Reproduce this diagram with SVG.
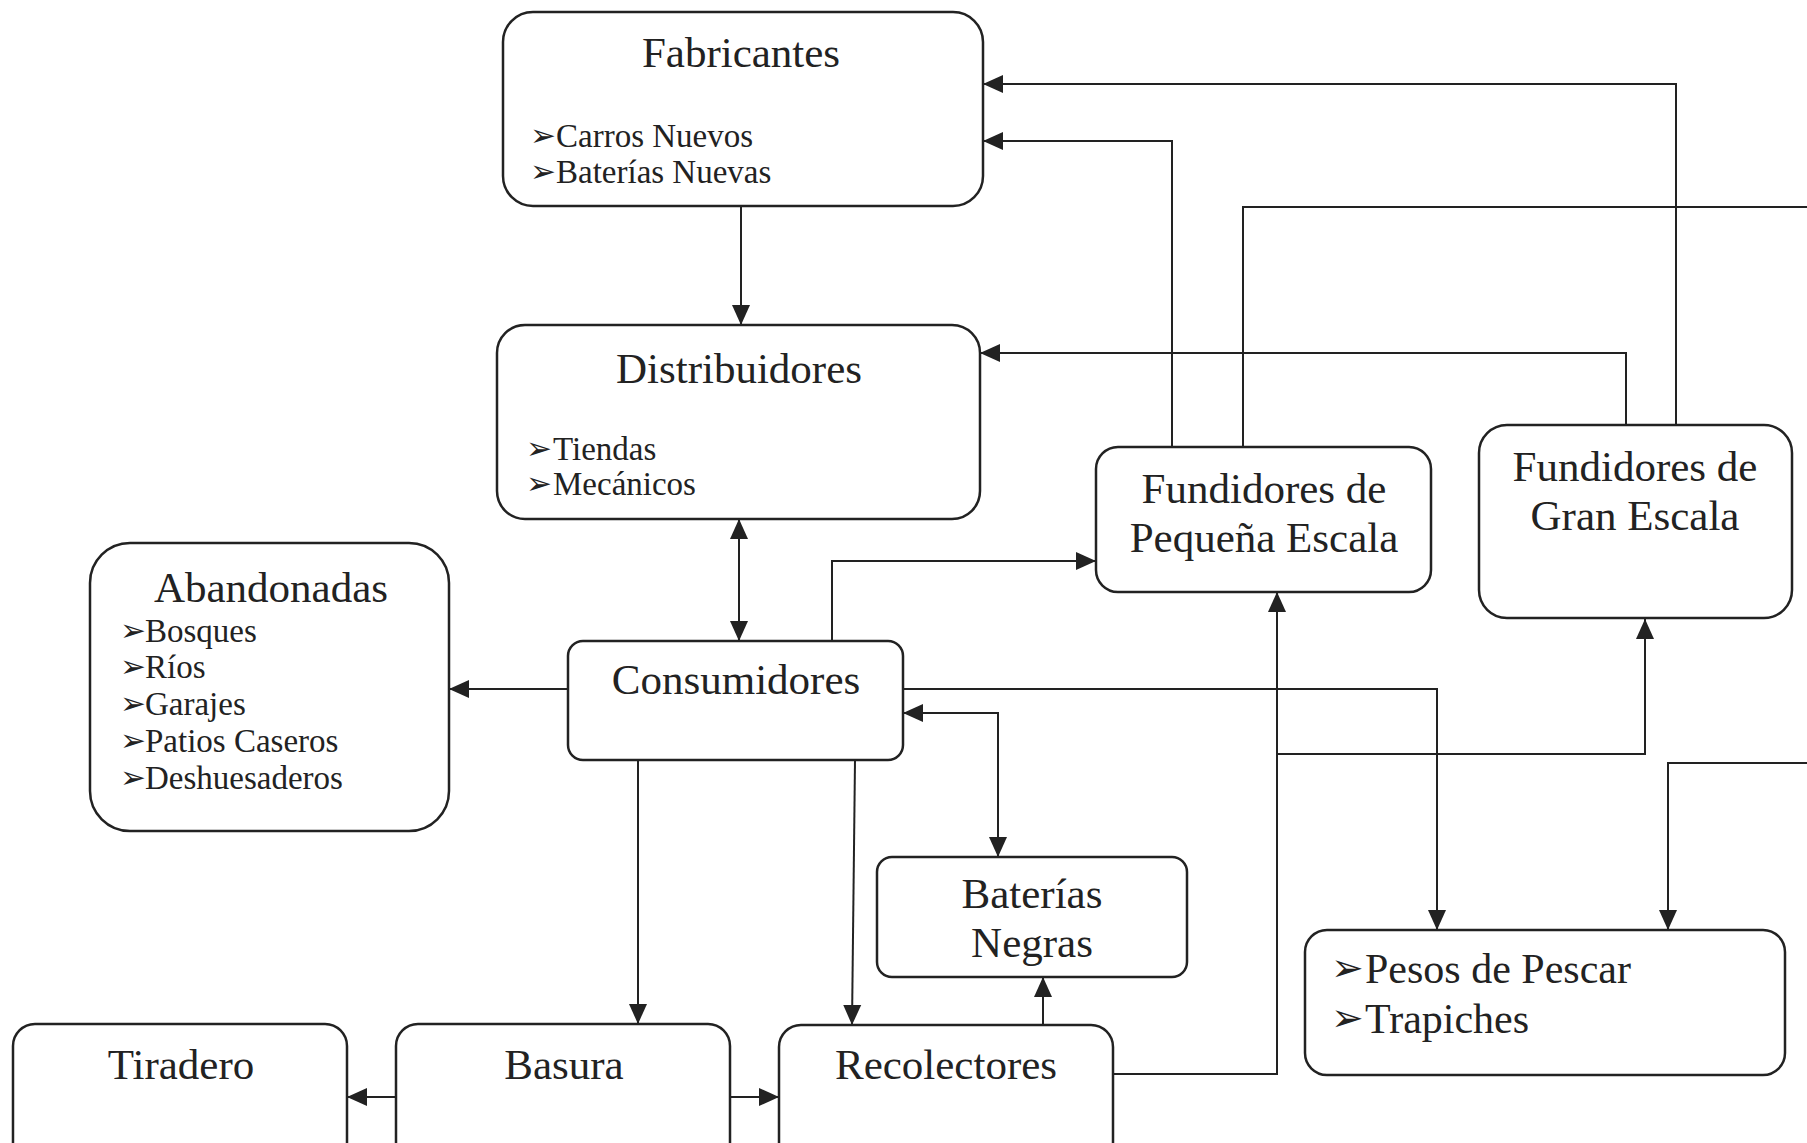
<svg xmlns="http://www.w3.org/2000/svg" width="1807" height="1143" viewBox="0 0 1807 1143">
<defs>
<marker id="ah" markerUnits="userSpaceOnUse" markerWidth="20" markerHeight="20" viewBox="0 0 20 20" refX="20" refY="10" orient="auto-start-reverse">
<path d="M0,1 L20,10 L0,19 z" fill="#222"/>
</marker>
<style>
.box{fill:#fff;stroke:#222;stroke-width:2.5}
.t{font-family:"Liberation Serif","Times New Roman",serif;font-size:43px;fill:#222;text-anchor:middle}
.b{font-family:"Liberation Serif","Times New Roman",serif;font-size:33px;fill:#222}
.bl{font-family:"DejaVu Sans",sans-serif;font-size:31px;fill:#222}
.c{fill:none;stroke:#222;stroke-width:2}
.a{marker-end:url(#ah)}
.s{marker-start:url(#ah)}
</style>
</defs>
<rect width="1807" height="1143" fill="#fff"/>
<g id="connectors">
<path class="c a" d="M741,206 L741,325"/>
<path class="c a s" d="M739,519 L739,641"/>
<path class="c a" d="M568,689 L449,689"/>
<path class="c a" d="M832,641 L832,561 L1096,561"/>
<path class="c a" d="M1172,447 L1172,141 L983,141"/>
<path class="c" d="M1243,447 L1243,207 L1807,207"/>
<path class="c a" d="M1676,425 L1676,84 L983,84"/>
<path class="c a" d="M1626,425 L1626,353 L980,353"/>
<path class="c a" d="M903,689 L1437,689 L1437,930"/>
<path class="c a s" d="M903,713 L998,713 L998,857"/>
<path class="c a" d="M638,760 L638,1024"/>
<path class="c a" d="M855,760 L852,1025"/>
<path class="c a" d="M1043,1025 L1043,977"/>
<path class="c a" d="M396,1097 L347,1097"/>
<path class="c a" d="M730,1097 L779,1097"/>
<path class="c a" d="M1113,1074 L1277,1074 L1277,592"/>
<path class="c a" d="M1277,754 L1645,754 L1645,619"/>
<path class="c a" d="M1807,763 L1668,763 L1668,930"/>
</g>
<g id="fabricantes">
<rect class="box" x="503" y="12" width="480" height="194" rx="30"/>
<text class="t" x="741" y="67">Fabricantes</text>
<text class="bl" x="530" y="146">➢</text><text class="b" x="556" y="147">Carros Nuevos</text>
<text class="bl" x="530" y="182">➢</text><text class="b" x="556" y="183">Baterías Nuevas</text>
</g>
<g id="distribuidores">
<rect class="box" x="497" y="325" width="483" height="194" rx="28"/>
<text class="t" x="739" y="383">Distribuidores</text>
<text class="bl" x="526" y="459">➢</text><text class="b" x="553" y="460">Tiendas</text>
<text class="bl" x="526" y="494">➢</text><text class="b" x="553" y="495">Mecánicos</text>
</g>
<g id="abandonadas">
<rect class="box" x="90" y="543" width="359" height="288" rx="40"/>
<text class="t" x="271" y="602">Abandonadas</text>
<text class="bl" x="120" y="641">➢</text><text class="b" x="145" y="642">Bosques</text>
<text class="bl" x="120" y="677">➢</text><text class="b" x="145" y="678">Ríos</text>
<text class="bl" x="120" y="714">➢</text><text class="b" x="145" y="715">Garajes</text>
<text class="bl" x="120" y="751">➢</text><text class="b" x="145" y="752">Patios Caseros</text>
<text class="bl" x="120" y="788">➢</text><text class="b" x="145" y="789">Deshuesaderos</text>
</g>
<g id="consumidores">
<rect class="box" x="568" y="641" width="335" height="119" rx="15"/>
<text class="t" x="736" y="694">Consumidores</text>
</g>
<g id="baterias-negras">
<rect class="box" x="877" y="857" width="310" height="120" rx="15"/>
<text class="t" x="1032" y="908">Baterías</text>
<text class="t" x="1032" y="957">Negras</text>
</g>
<g id="fundidores-pequena">
<rect class="box" x="1096" y="447" width="335" height="145" rx="22"/>
<text class="t" x="1264" y="503">Fundidores de</text>
<text class="t" x="1264" y="552">Pequeña Escala</text>
</g>
<g id="fundidores-gran">
<rect class="box" x="1479" y="425" width="313" height="193" rx="28"/>
<text class="t" x="1635" y="481">Fundidores de</text>
<text class="t" x="1635" y="530">Gran Escala</text>
</g>
<g id="pesos">
<rect class="box" x="1305" y="930" width="480" height="145" rx="22"/>
<text class="bl" x="1331" y="981" style="font-size:39px">➢</text><text class="b" x="1365" y="983" style="font-size:42px">Pesos de Pescar</text>
<text class="bl" x="1331" y="1031" style="font-size:39px">➢</text><text class="b" x="1365" y="1033" style="font-size:42px">Trapiches</text>
</g>
<g id="tiradero">
<rect class="box" x="13" y="1024" width="334" height="150" rx="22"/>
<text class="t" x="181" y="1079">Tiradero</text>
</g>
<g id="basura">
<rect class="box" x="396" y="1024" width="334" height="150" rx="22"/>
<text class="t" x="564" y="1079">Basura</text>
</g>
<g id="recolectores">
<rect class="box" x="779" y="1025" width="334" height="150" rx="22"/>
<text class="t" x="946" y="1079">Recolectores</text>
</g>
</svg>
